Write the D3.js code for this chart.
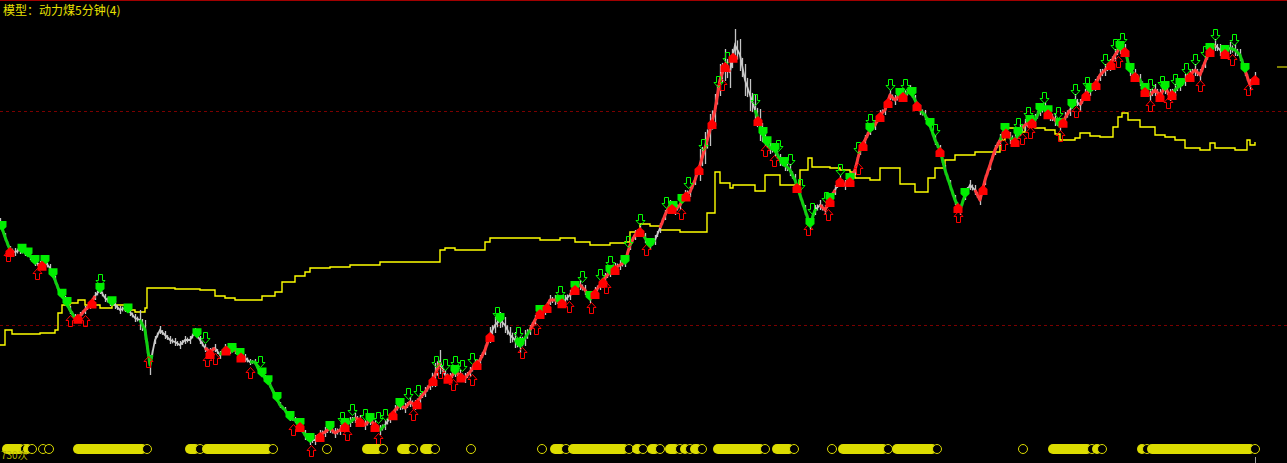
<!DOCTYPE html>
<html><head><meta charset="utf-8">
<script src="https://cdn.jsdelivr.net/npm/d3@7"></script>
<style>html,body{margin:0;padding:0;background:#000;overflow:hidden}</style>
</head><body><div id="chart"></div>
<script>
// ---------- data ----------
const title = "模型：动力煤5分钟(4)";
const countLabel = "730次";
const barStep = 5;               // price sampled every 5 bars
const price = [778,763,750,748,750,748,744,738,735,738,732,720,707,700,690,682,684,690,695,704,
710,702,698,695,690,692,688,682,680,670,635,660,670,665,660,658,655,660,660,668,
660,652,648,652,645,652,650,650,645,642,638,638,628,622,615,605,595,590,582,580,
575,565,560,560,565,568,572,567,570,575,578,582,580,575,580,575,570,575,582,590,
595,592,598,595,602,608,615,625,638,625,622,628,625,622,628,635,640,650,665,675,
680,675,665,660,655,662,670,680,688,690,700,700,698,700,705,712,715,710,702,708,
715,722,728,732,735,738,755,765,770,762,755,760,772,785,795,790,795,805,808,820,
835,852,870,890,920,935,928,955,945,920,905,890,875,860,852,850,840,835,830,820,
805,790,775,790,795,790,800,810,820,815,820,830,850,860,870,875,885,890,905,900,
905,905,910,900,890,885,875,860,850,830,815,800,790,805,815,810,800,820,835,850,
860,870,862,860,870,875,878,880,890,892,885,880,875,882,890,900,895,905,910,915,
925,930,935,945,952,950,930,925,920,910,905,910,905,912,905,910,915,920,925,930,
925,938,950,955,950,948,952,950,945,930,915,922];
// half range of the bars (price units) over stretches of the series: [fromBar, toBar, halfRange]
const spreadRuns = [[0,140,4],[140,152,10],[152,250,4],[250,300,3],[300,432,5],[432,442,12],[442,490,5],[490,530,8],[530,700,5],[700,765,16],[765,800,6],[800,1000,5],[1000,1256,6]];
const lastMark = 933;

const eqBars = [0,5,12,40,55,58,62,70,78,85,100,112,125,135,145,147,175,200,215,225,235,255,262,275,282,295,305,310,330,350,380,415,440,445,455,485,490,540,560,575,590,610,625,630,640,650,660,680,707,715,720,730,733,755,765,780,790,800,808,812,830,840,850,855,870,880,900,915,928,935,945,955,975,1000,1005,1015,1025,1035,1045,1055,1060,1075,1080,1090,1100,1113,1118,1122,1128,1140,1155,1165,1175,1185,1200,1210,1215,1235,1247,1250,1255];
const eqVals = [55,70,66,67,70,87,95,97,100,95,92,95,90,88,92,112,111,110,104,102,100,100,104,108,118,124,128,132,133,135,138,138,150,152,150,158,162,160,162,158,155,157,158,168,176,174,170,168,187,228,217,212,215,209,225,215,215,230,242,233,232,230,228,222,220,232,216,208,222,232,240,245,248,260,272,268,275,272,270,266,260,262,267,264,263,273,283,287,280,273,265,263,260,252,250,257,252,250,260,255,258];

const redRuns = [[80,95],[205,215],[230,245],[318,345],[355,375],[390,440],[445,490],[530,560],[570,640],[660,730],[820,835],[840,900],[975,1000],[1020,1030],[1050,1070],[1080,1125],[1150,1170],[1185,1215],[1245,1255]];
const greenRuns = [[0,12],[25,35],[52,75],[140,152],[220,230],[250,310],[345,355],[375,385],[515,530],[640,655],[755,815],[905,965],[1000,1020],[1030,1050],[1125,1150],[1170,1185],[1230,1245]];

const greenHollow = [100,205,260,342,352,365,378,385,408,418,436,445,455,462,472,497,518,560,582,600,610,628,640,666,688,703,718,727,755,778,790,800,812,826,840,858,870,890,905,935,1018,1028,1044,1058,1075,1087,1105,1115,1122,1150,1162,1175,1186,1195,1205,1215,1234];
const redHollow = [8,37,70,85,148,207,215,250,293,311,347,378,413,440,453,472,522,536,569,591,606,646,681,722,765,774,808,828,858,958,1003,1022,1030,1060,1076,1118,1150,1168,1200,1232,1248];
const greenFill = [2,22,28,35,45,53,62,67,100,112,128,197,232,240,262,268,277,290,300,310,330,345,370,400,455,500,520,540,560,575,590,610,625,650,673,682,763,767,775,784,810,830,850,870,900,912,930,965,1005,1018,1030,1040,1048,1060,1072,1090,1120,1130,1145,1165,1180,1210,1225,1245];
const redFill = [10,42,78,92,210,226,241,300,320,345,360,375,393,417,433,448,461,477,490,540,547,562,575,595,603,615,640,672,686,699,712,725,733,758,797,830,840,850,863,880,888,903,917,940,958,983,1006,1015,1032,1048,1063,1086,1096,1111,1125,1135,1145,1160,1172,1190,1210,1225,1255];

const holdings = [[7,25],[28,32],[43,43],[49,49],[78,147],[190,200],[207,273],[327,327],[367,383],[402,413],[425,435],[471,471],[542,542],[555,566],[573,629],[637,643],[652,660],[670,680],[685,690],[695,702],[718,765],[777,794],[832,832],[843,888],[897,937],[1023,1023],[1053,1092],[1097,1102],[1142,1147],[1152,1255]];
const cursorBar = 1255;

// ---------- layout ----------
const W = 1287, H = 463;
const svg = d3.select("#chart").append("svg").attr("width", W).attr("height", H)
  .style("background", "#000").style("display","block");

const x = d3.scaleLinear().domain([0, 1255]).range([0, 1255]);
const y = d3.scaleLinear().domain([537, 1000]).range([H, 0]);
const y2 = d3.scaleLinear().domain([0, 400]).range([400, 0]);

const bars = price.map((_, i) => i * barStep);
const priceAt = b => {
  const i = Math.min(Math.floor(b / barStep), price.length - 2);
  const t = (b - i * barStep) / barStep;
  return price[i] + (price[i + 1] - price[i]) * Math.max(0, Math.min(1, t));
};
const spreadAt = b => { const r = spreadRuns.find(s => b >= s[0] && b < s[1]); return r ? r[2] : 4; };

// frame / reference lines
svg.append("line").attr("x1",0).attr("x2",W).attr("y1",0.5).attr("y2",0.5)
  .attr("stroke","#a00000").attr("stroke-width",1);
[889, 675].forEach(v => {
  svg.append("line").attr("x1",0).attr("x2",W).attr("y1",Math.round(y(v))+0.5).attr("y2",Math.round(y(v))+0.5)
    .attr("stroke","#7a0000").attr("stroke-width",1).attr("stroke-dasharray","3,3");
});

// equity (yellow step line)
const eqPts = eqBars.map((b, i) => [x(b), y2(eqVals[i])]);
svg.append("path").attr("d", d3.line().curve(d3.curveStepAfter)(eqPts))
  .attr("fill","none").attr("stroke","#ffff00").attr("stroke-width",1.4);

// bar ranges (gray ticks)
const rg = svg.append("g");
bars.forEach((b, i) => {
  const s = spreadAt(b);
  rg.append("line").attr("x1", x(b)+0.5).attr("x2", x(b)+0.5)
    .attr("y1", y(price[i] + s)).attr("y2", y(price[i] - s))
    .attr("stroke","#c4c4c4").attr("stroke-width",1.3);
  if (i < bars.length - 1) {
    const m = b + 2.5, s2 = spreadAt(m) * 0.6;
    rg.append("line").attr("x1", x(m)).attr("x2", x(m))
      .attr("y1", y(priceAt(m) + s2)).attr("y2", y(priceAt(m) - s2))
      .attr("stroke","#c4c4c4").attr("stroke-width",1.3);
  }
});

// price line
const line = d3.line().x(d => x(d[0])).y(d => y(d[1]));
svg.append("path").attr("d", line(bars.map((b, i) => [b, price[i]])))
  .attr("fill","none").attr("stroke","#c8c8c8").attr("stroke-width",1.8);

// colored runs
function runPts(a, b) {
  const pts = [[a, priceAt(a)]];
  bars.forEach((bb, i) => { if (bb > a && bb < b) pts.push([bb, price[i]]); });
  pts.push([b, priceAt(b)]);
  return pts;
}
redRuns.forEach(r => svg.append("path").attr("d", line(runPts(r[0], r[1])))
  .attr("fill","none").attr("stroke","#ff3a3a").attr("stroke-width",3).attr("stroke-linejoin","round"));
greenRuns.forEach(r => svg.append("path").attr("d", line(runPts(r[0], r[1])))
  .attr("fill","none").attr("stroke","#10d010").attr("stroke-width",3).attr("stroke-linejoin","round"));

// markers
const hollowDown = "M-2,-11L2,-11L2,-5L4.5,-5L0,0L-4.5,-5L-2,-5Z";
const hollowUp = "M-2,11L2,11L2,5L4.5,5L0,0L-4.5,5L-2,5Z";
const fillDown = "M-4.5,-5L4.5,-5L4.5,1L0,5L-4.5,1Z";
const fillUp = "M-4.5,5L4.5,5L4.5,-1L0,-5L-4.5,-1Z";

const mk = svg.append("g");
greenHollow.forEach(b => mk.append("path").attr("d", hollowDown)
  .attr("transform", `translate(${Math.round(x(b))+0.5},${Math.round(y(priceAt(b)))-4.5})`)
  .attr("fill","none").attr("stroke","#00ff00").attr("stroke-width",1));
redHollow.forEach(b => mk.append("path").attr("d", hollowUp)
  .attr("transform", `translate(${Math.round(x(b))+0.5},${Math.round(y(priceAt(b)))+5.5})`)
  .attr("fill","none").attr("stroke","#ff0000").attr("stroke-width",1));
greenFill.forEach(b => mk.append("path").attr("d", fillDown)
  .attr("transform", `translate(${x(b)},${y(priceAt(b)) - 2})`)
  .attr("fill","#00ee00"));
redFill.forEach(b => mk.append("path").attr("d", fillUp)
  .attr("transform", `translate(${x(b)},${y(priceAt(b)) + 2})`)
  .attr("fill","#ff0000"));

// last value tick
svg.append("line").attr("x1",1277).attr("x2",W).attr("y1",y(lastMark)).attr("y2",y(lastMark))
  .attr("stroke","#ffff00").attr("stroke-width",1);

// holdings strip at bottom
const hy = 449, r = 5;
const hg = svg.append("g");
holdings.forEach(([a, b]) => {
  if (b > a) {
    hg.append("rect").attr("x", x(a) - r).attr("y", hy - r).attr("width", x(b) - x(a) + r)
      .attr("height", 2 * r).attr("rx", r).attr("ry", r).attr("fill", "#dcdc00");
  }
  hg.append("circle").attr("cx", x(b)).attr("cy", hy).attr("r", r - 0.5)
    .attr("fill", "#000").attr("stroke", "#dcdc00").attr("stroke-width", 1);
});

svg.append("line").attr("x1", x(cursorBar)+0.5).attr("x2", x(cursorBar)+0.5).attr("y1", 457).attr("y2", H)
  .attr("stroke","#a0a0a0").attr("stroke-width",1);

// texts
svg.append("text").attr("x", 3).attr("y", 15).text(title)
  .attr("fill","#e8e000").attr("font-size","12px")
  .attr("font-family","'Noto Sans CJK SC', 'Noto Sans', sans-serif");
svg.append("text").attr("x", 1).attr("y", 459).text(countLabel)
  .attr("fill","#b8b800").attr("font-size","10px")
  .attr("font-family","'Noto Sans CJK SC', 'Noto Sans', sans-serif");
</script>
</body></html>
